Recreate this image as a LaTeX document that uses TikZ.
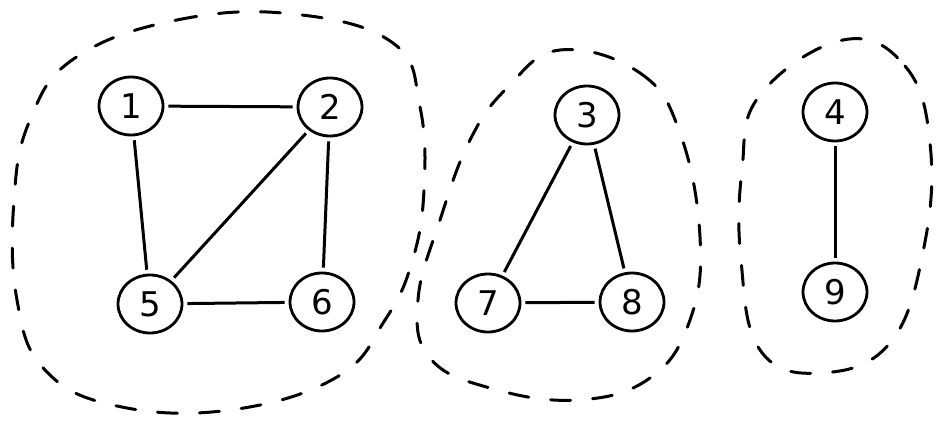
\documentclass[tikz,border=0pt]{standalone}
\usepackage{fontspec}
\setmainfont{DejaVu Sans}
\usetikzlibrary{shapes.geometric}
\begin{document}
\begin{tikzpicture}[x=1pt,y=-1pt,
  vtx/.style={draw,ellipse,line width=2.8pt,minimum width=64pt,minimum height=58pt,inner sep=0pt,font=\fontsize{34}{34}\selectfont},
  edge/.style={line width=3pt,shorten <=4pt,shorten >=4pt},
  blob/.style={line width=3pt,dash pattern=on 20pt off 22pt,line cap=round}]
\useasboundingbox (0,0) rectangle (938,423);
% nodes
\node[vtx] (n1) at (131,106) {1};
\node[vtx] (n2) at (330,107) {2};
\node[vtx] (n5) at (150,304) {5};
\node[vtx] (n6) at (322,302) {6};
\node[vtx] (n3) at (587,115) {3};
\node[vtx] (n7) at (488,303) {7};
\node[vtx] (n8) at (632,302) {8};
\node[vtx] (n4) at (835,112) {4};
\node[vtx] (n9) at (835,292) {9};
% edges
\draw[edge] (n1) -- (n2);
\draw[edge] (n1) -- (n5);
\draw[edge] (n2) -- (n5);
\draw[edge] (n2) -- (n6);
\draw[edge] (n5) -- (n6);
\draw[edge] (n3) -- (n7);
\draw[edge] (n3) -- (n8);
\draw[edge] (n7) -- (n8);
\draw[edge] (n4) -- (n9);
% blobs
\draw[blob] plot[smooth cycle,tension=0.7] coordinates {(75,58) (177,20) (293,14) (393,43) (420,107) (424,190) (412,262) (385,320) (337,377) (230,410) (117,406) (45,370) (17,300) (14,200) (30,120)};
\draw[blob] plot[smooth cycle,tension=0.7] coordinates {(560,50) (640,73) (680,133) (700,237) (690,320) (650,378) (577,400) (490,388) (430,358) (418,300) (440,220) (470,140) (507,88)};
\draw[blob] plot[smooth cycle,tension=0.7] coordinates {(843,40) (905,66) (930,143) (924,247) (890,343) (820,373) (760,350) (741,260) (742,170) (760,95)};
\end{tikzpicture}
\end{document}
